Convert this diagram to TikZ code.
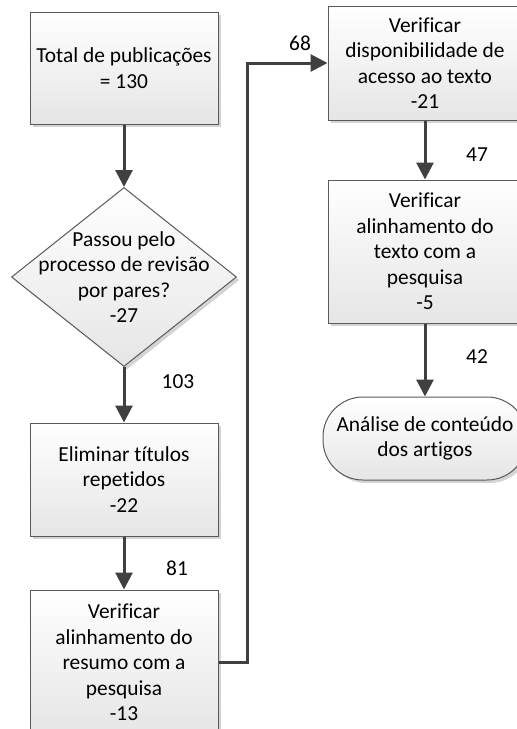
\documentclass[tikz,border=0pt]{standalone}
\usepackage{fontspec}
\setmainfont{Carlito}[Ligatures=NoCommon]
\usetikzlibrary{shapes.geometric,arrows.meta,shadows}
\definecolor{boxline}{HTML}{5A5A5A}
\definecolor{arrline}{HTML}{404040}
\definecolor{shadowgray}{HTML}{D4D4D4}
\begin{document}
\begin{tikzpicture}[x=1pt,y=-1pt,
  every node/.style={font=\fontsize{21.4}{25.4}\selectfont, text=black},
  shaded/.style={draw=boxline, line width=1pt, top color=white, bottom color=black!10,
    drop shadow={shadow xshift=3pt, shadow yshift=-3pt, fill=shadowgray, opacity=1}},
  procbox/.style={shaded, rectangle, align=center, inner sep=0pt, minimum width=188pt},
  wbox/.style={procbox, minimum width=194pt},
  decbox/.style={shaded, diamond, inner sep=0pt, minimum width=225pt, minimum height=179pt},
  termbox/.style={shaded, rectangle, rounded corners=40pt, align=center, inner sep=0pt, minimum width=204pt, minimum height=83pt},
  arr/.style={draw=arrline, line width=3pt, -{Triangle[width=17pt,length=17pt]}},
  num/.style={inner sep=0pt}
]
\useasboundingbox (0,0) rectangle (517,729);

\node[procbox, minimum height=112pt] (box1) at (124,68) {Total de publicações\\= 130};
\node[decbox] (dec) at (124,277) {};
\node[align=center, inner sep=0pt] (dectext) at (dec.center) {Passou pelo\\processo de revisão\\por pares?\\-27};
\node[procbox, minimum height=113pt] (box3) at (124,479.5) {Eliminar títulos\\repetidos\\-22};
\node[procbox, minimum height=145pt] (box4) at (124,662.5) {Verificar\\alinhamento do\\resumo com a\\pesquisa\\-13};

\node[wbox, minimum height=114pt] (box5) at (425,63) {Verificar\\disponibilidade de\\acesso ao texto\\-21};
\node[wbox, minimum height=143pt] (box6) at (425,251.5) {Verificar\\alinhamento do\\texto com a\\pesquisa\\-5};
\node[termbox] (term) at (425,438.5) {Análise de conteúdo\\dos artigos};

\coordinate (bx) at (247,0);

\draw[arr] (box1.south) -- (dec.north);
\draw[arr] (dec.south) -- (box3.north);
\draw[arr] (box3.south) -- (box4.north);
\draw[arr] (box4.east) -- (box4.east -| bx) |- (box5.west);
\draw[arr] (box5.south) -- (box6.north);
\draw[arr] (box6.south) -- (term.north);

\node[num] (n103) at (178,382) {103};
\node[num] (n81) at (177,568) {81};
\node[num] (n68) at (300,43) {68};
\node[num] (n47) at (477,155) {47};
\node[num] (n42) at (477,357) {42};
\end{tikzpicture}
\end{document}
